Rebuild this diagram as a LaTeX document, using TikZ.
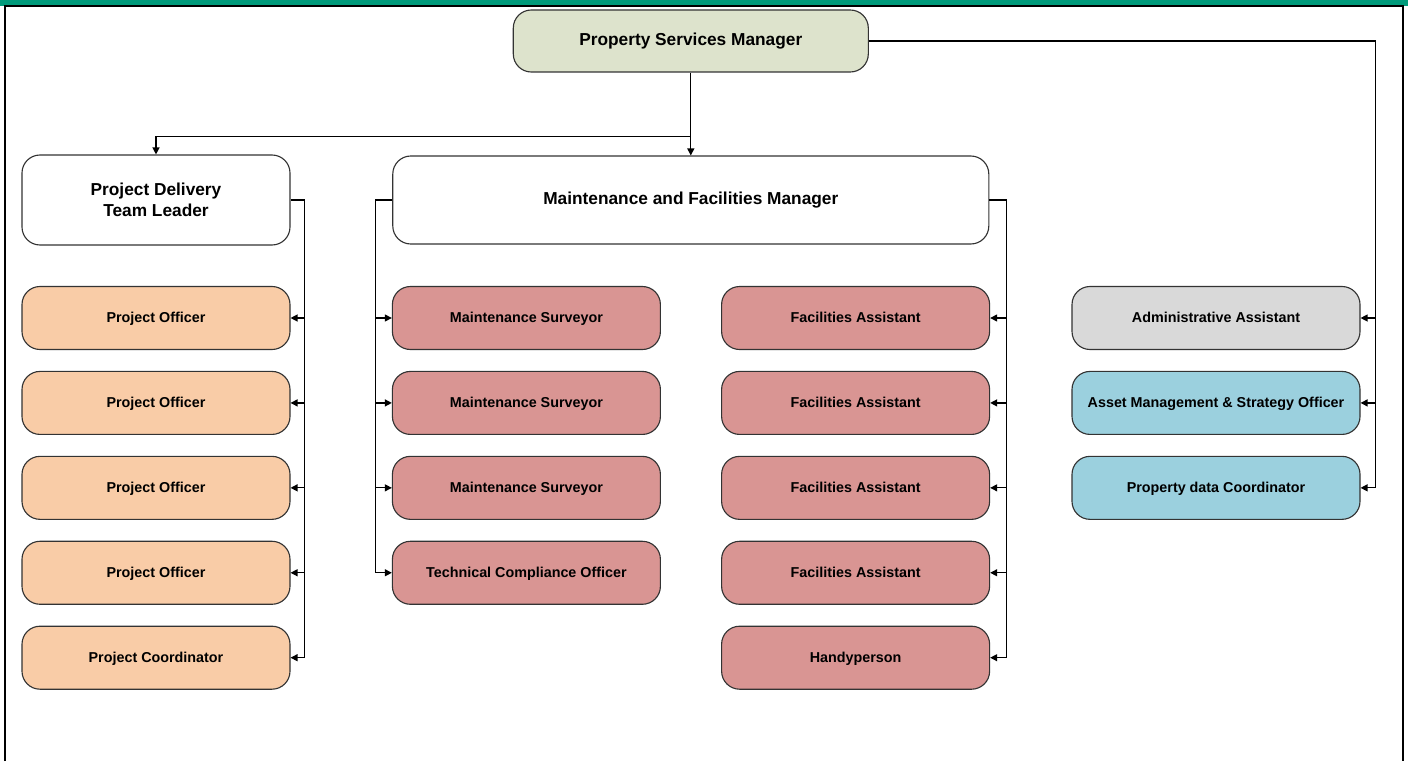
\documentclass[tikz,border=0pt]{standalone}
\usepackage{fontspec}
\setmainfont{Liberation Sans}
\usepackage{xcolor}
\usepackage{tikz}
\usetikzlibrary{arrows.meta,positioning,calc}

\definecolor{headgreen}{RGB}{0,154,122}
\definecolor{mgrolive}{RGB}{221,227,204}
\definecolor{projpeach}{RGB}{249,204,167}
\definecolor{maintred}{RGB}{217,149,147}
\definecolor{admingray}{RGB}{217,217,217}
\definecolor{assetblue}{RGB}{155,208,222}

\begin{document}
\begin{tikzpicture}[
  node distance=0.52cm,
  card/.style={rectangle, draw=black!80, line width=0.8pt, rounded corners=0.45cm, minimum width=6.7cm, align=center, inner sep=0pt},
  box/.style={card, minimum height=1.575cm, text height=1.6ex, text depth=0.3ex, font=\fontsize{10.2}{12}\selectfont\bfseries},
  mgr/.style={card, minimum height=2.2cm, font=\fontsize{12.3}{15}\selectfont\bfseries},
  arrow/.style={-{Triangle[length=5pt,width=5pt]}, line width=0.9pt},
  link/.style={line width=0.9pt}
]
  \useasboundingbox (0,0) rectangle (35.2,-19.025);
  \fill[headgreen] (0,0) rectangle (35.2,-0.14);
  \draw[line width=1.6pt] (0.13,-19.025) -- (0.13,-0.15) -- (35.075,-0.15) -- (35.075,-19.025);

  \node[mgr, fill=mgrolive, minimum width=8.875cm, minimum height=1.55cm] (psm) at (17.27,-1.025) {Property Services Manager};
  \node[mgr, fill=white, minimum height=2.25cm] (pdtl) at (3.9,-5) {Project Delivery\\ Team Leader};
  \node[mgr, fill=white, minimum width=14.9cm] (mfm) at (17.27,-5) {Maintenance and Facilities Manager};

  \node[box, fill=projpeach] (po1) at (3.9,-7.95) {Project Officer};
  \node[box, fill=projpeach, below=of po1] (po2) {Project Officer};
  \node[box, fill=projpeach, below=of po2] (po3) {Project Officer};
  \node[box, fill=projpeach, below=of po3] (po4) {Project Officer};
  \node[box, fill=projpeach, below=of po4] (pc) {Project Coordinator};

  \node[box, fill=maintred] (ms1) at (13.16,-7.95) {Maintenance Surveyor};
  \node[box, fill=maintred, below=of ms1] (ms2) {Maintenance Surveyor};
  \node[box, fill=maintred, below=of ms2] (ms3) {Maintenance Surveyor};
  \node[box, fill=maintred, below=of ms3] (tco) {Technical Compliance Officer};

  \node[box, fill=maintred] (fa1) at (21.39,-7.95) {Facilities Assistant};
  \node[box, fill=maintred, below=of fa1] (fa2) {Facilities Assistant};
  \node[box, fill=maintred, below=of fa2] (fa3) {Facilities Assistant};
  \node[box, fill=maintred, below=of fa3] (fa4) {Facilities Assistant};
  \node[box, fill=maintred, below=of fa4] (handy) {Handyperson};

  \node[box, fill=admingray, minimum width=7.2cm] (admin) at (30.4,-7.95) {Administrative Assistant};
  \node[box, fill=assetblue, minimum width=7.2cm, below=of admin] (asset) {Asset Management \& Strategy Officer};
  \node[box, fill=assetblue, minimum width=7.2cm, below=of asset] (pdc) {Property data Coordinator};

  \coordinate (split) at ($(psm.south)+(0,-1.6)$);
  \draw[arrow] (psm) -- (mfm);
  \draw[arrow] (split) -| (pdtl.north);

  \coordinate (rspine) at ($(pdc.east)+(0.375,0)$);
  \draw[link] (psm.east) -| (rspine);
  \draw[arrow] (admin.east -| rspine) -- (admin.east);
  \draw[arrow] (asset.east -| rspine) -- (asset.east);
  \draw[arrow] (rspine) -- (pdc.east);

  \coordinate (lspine) at ($(pc.east)+(0.35,0)$);
  \draw[link] (pdtl.east) -| (lspine);
  \draw[arrow] (po1.east -| lspine) -- (po1.east);
  \draw[arrow] (po2.east -| lspine) -- (po2.east);
  \draw[arrow] (po3.east -| lspine) -- (po3.east);
  \draw[arrow] (po4.east -| lspine) -- (po4.east);
  \draw[arrow] (lspine) -- (pc.east);

  \coordinate (mlspine) at ($(tco.west)+(-0.4,0)$);
  \draw[link] (mfm.west) -| (mlspine);
  \draw[arrow] (ms1.west -| mlspine) -- (ms1.west);
  \draw[arrow] (ms2.west -| mlspine) -- (ms2.west);
  \draw[arrow] (ms3.west -| mlspine) -- (ms3.west);
  \draw[arrow] (mlspine) -- (tco.west);

  \coordinate (mrspine) at ($(handy.east)+(0.4,0)$);
  \draw[link] (mfm.east) -| (mrspine);
  \draw[arrow] (fa1.east -| mrspine) -- (fa1.east);
  \draw[arrow] (fa2.east -| mrspine) -- (fa2.east);
  \draw[arrow] (fa3.east -| mrspine) -- (fa3.east);
  \draw[arrow] (fa4.east -| mrspine) -- (fa4.east);
  \draw[arrow] (mrspine) -- (handy.east);
\end{tikzpicture}
\end{document}
